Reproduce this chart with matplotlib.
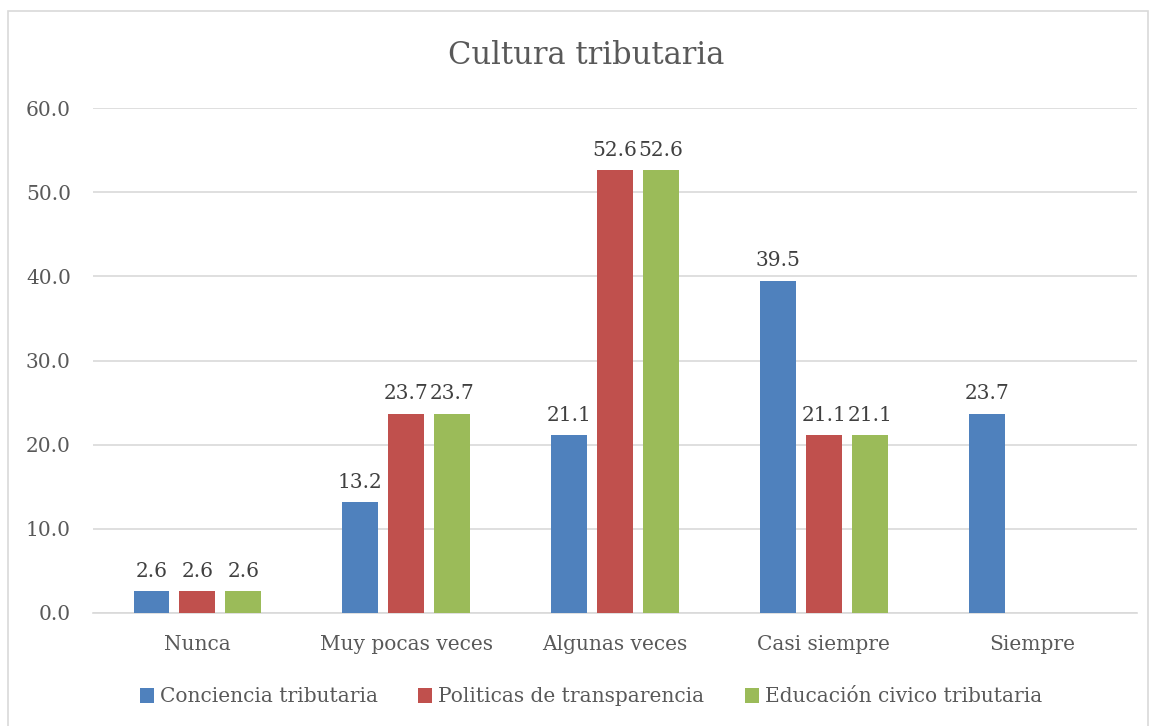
import numpy as np
import matplotlib.pyplot as plt
from matplotlib.patches import Rectangle

categories = ['Nunca', 'Muy pocas veces', 'Algunas veces', 'Casi siempre', 'Siempre']
conciencia = [2.6, 13.2, 21.1, 39.5, 23.7]
politicas = [2.6, 23.7, 52.6, 21.1, None]
educacion = [2.6, 23.7, 52.6, 21.1, None]
series_names = ['Conciencia tributaria', 'Politicas de transparencia', 'Educación civico tributaria']
colors = ['#4F81BD', '#C0504D', '#9BBB59']

plt.rcParams['font.family'] = ['DejaVu Serif']
text_color = '#595959'
fs = 14.5

fig = plt.figure(figsize=(11.55, 7.26), dpi=100)
fig.patches.append(Rectangle((8 / 1155, -0.01), 1140 / 1155, 1 - 11 / 726 + 0.01,
                             transform=fig.transFigure, fill=False,
                             edgecolor='#d9d9d9', lw=1.2))
ax = fig.add_axes([93 / 1155, 1 - 613 / 726, 1044 / 1155, 505 / 726])

x = np.arange(len(categories))
width = 0.172
offsets = [-0.22, 0, 0.22]
for vals, off, col, name in zip([conciencia, politicas, educacion], offsets, colors, series_names):
    v = np.array([np.nan if a is None else a for a in vals], dtype=float)
    ax.bar(x + off, v, width, color=col, label=name, zorder=3)
    for xi, val in zip(x + off, v):
        if not np.isnan(val):
            ax.text(xi, val + 1.2, f'{val:.1f}', ha='center', va='bottom',
                    fontsize=fs, color='#404040')

ax.set_xlim(-0.5, 4.5)
ax.set_ylim(0, 60)
ax.set_yticks(np.arange(0, 61, 10))
ax.set_yticklabels([f'{t:.1f}' for t in np.arange(0, 61, 10)])
ax.set_xticks(x)
ax.set_xticklabels(categories)
ax.tick_params(axis='both', length=0, labelsize=fs, colors=text_color)
ax.tick_params(axis='y', pad=16)
ax.tick_params(axis='x', pad=16)
ax.grid(axis='y', color='#d9d9d9', lw=1.2, zorder=0)
for s in ['top', 'right', 'left']:
    ax.spines[s].set_visible(False)
ax.spines['bottom'].set_color('#d9d9d9')
ax.spines['bottom'].set_linewidth(1.2)

fig.text(586 / 1155, 1 - 56 / 726, 'Cultura tributaria', ha='center', va='center',
         fontsize=22, color=text_color)

leg = fig.legend(loc='center', bbox_to_anchor=(591 / 1155, 1 - 697 / 726), ncol=3,
                 frameon=False, fontsize=fs, handlelength=0.7, handleheight=0.7,
                 handletextpad=0.3, columnspacing=2.0)
for t in leg.get_texts():
    t.set_color(text_color)

fig.savefig('out.png', dpi=100)
